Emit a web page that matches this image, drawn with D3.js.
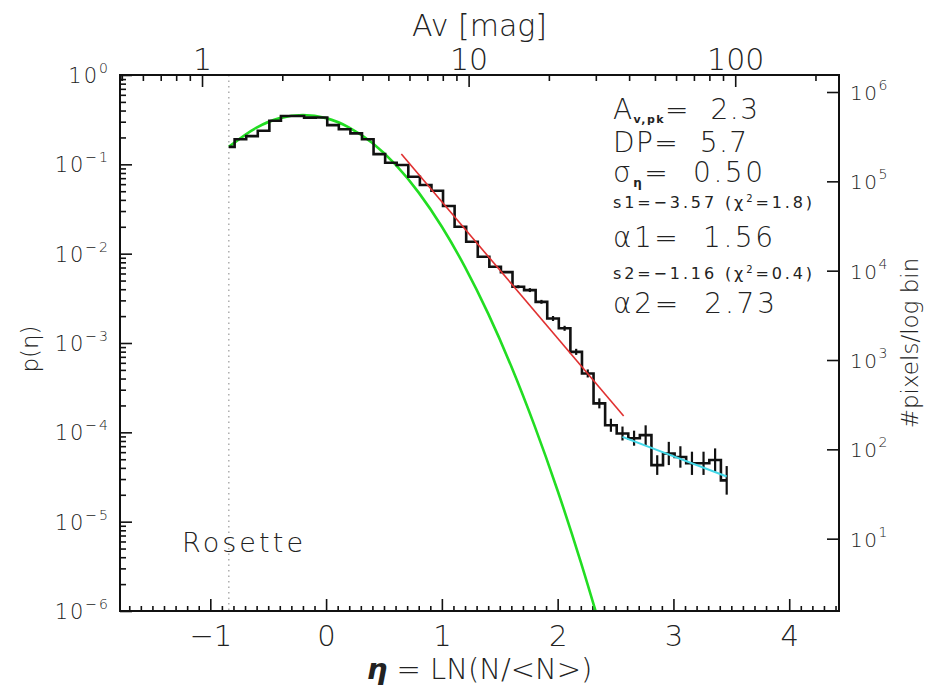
<!DOCTYPE html>
<html>
<head>
<meta charset="utf-8">
<script src="https://cdn.jsdelivr.net/npm/d3@7"></script>
<style>
  body { margin: 0; background: #fff; }
  svg { display: block; }
  text { font-family: "DejaVu Sans", sans-serif; font-weight: 200; fill: #222; white-space: pre; }
</style>
</head>
<body>
<div id="plot"></div>
<script>
// ---- data read off the Rosette column density PDF ----
// bin centres in eta = ln(N/<N>)
const ETA = [-0.84, -0.74, -0.64, -0.54, -0.44, -0.34, -0.24, -0.14, -0.04, 0.06,
             0.16, 0.26, 0.36, 0.46, 0.56, 0.66, 0.76, 0.86, 0.96, 1.06,
             1.16, 1.26, 1.36, 1.46, 1.56, 1.66, 1.76, 1.86, 1.96, 2.06,
             2.16, 2.26, 2.36, 2.46, 2.56, 2.66, 2.76, 2.86, 2.96, 3.06,
             3.16, 3.26, 3.36, 3.46];
// p(eta) per bin
const P_ETA = [0.157, 0.191, 0.207, 0.238, 0.308, 0.347, 0.347, 0.333, 0.334, 0.275,
               0.247, 0.222, 0.191, 0.130, 0.104, 0.0982, 0.0726, 0.0586, 0.0506, 0.0341,
               0.0200, 0.0136, 0.00923, 0.00713, 0.00622, 0.00426, 0.00391, 0.00289, 0.00188, 0.00146,
               7.96e-4, 4.56e-4, 2.11e-4, 1.20e-4, 9.7e-5, 8.6e-5, 9.3e-5, 4.3e-5, 5.8e-5, 5.3e-5,
               4.5e-5, 4.5e-5, 4.9e-5, 2.9e-5];
// half length of the error bars, in dex (0 = not visible)
const ERR_DEX = [0, 0, 0, 0, 0, 0, 0, 0, 0, 0,
                 0, 0, 0, 0, 0, 0, 0, 0, 0, 0,
                 0, 0, 0, 0, 0, 0.017, 0.022, 0.022, 0.028, 0.028,
                 0.034, 0.045, 0.056, 0.073, 0.078, 0.084, 0.11, 0.11, 0.13, 0.12,
                 0.13, 0.13, 0.13, 0.16];

// lognormal fit (green)
const LN_ETA = [-0.84, -0.6, -0.4, -0.2, 0.0, 0.2, 0.4, 0.6, 0.8, 1.0, 1.2, 1.4, 1.6, 1.8, 2.0, 2.2, 2.4];
const LN_P   = [0.157, 0.258, 0.329, 0.356, 0.329, 0.258, 0.173, 0.099, 0.0482, 0.0200,
                0.00707, 0.00213, 5.46e-4, 1.19e-4, 2.22e-5, 3.53e-6, 4.8e-7];

// power law fits: s1 (red) and s2 (cyan), end points
const PL1_ETA = [0.65, 2.57];
const PL1_P   = [0.1305, 1.52e-4];
const PL2_ETA = [2.56, 3.46];
const PL2_P   = [8.9e-5, 3.2e-5];

// axes
const X_RANGE = [-1.78, 4.43];
const Y_RANGE = [1e-6, 1];
const X_TICKS = [-1, 0, 1, 2, 3, 4];
const AV_TICKS = [1, 10, 100];
const Y_EXP = [0, -1, -2, -3, -4, -5, -6];
const Y_RIGHT_EXP = [1, 2, 3, 4, 5, 6];
const AV_MEAN = 2.92;        // Av at eta = 0
const PIX_PER_P = 1.55e6;    // p(eta) -> #pixels / log bin

// ---- canvas ----
const W = 925, H = 687;
const MARGIN = {top: 75, right: 86, bottom: 76, left: 120};
const IW = W - MARGIN.left - MARGIN.right;
const IH = H - MARGIN.top - MARGIN.bottom;

const svg = d3.select('#plot').append('svg')
    .attr('width', W)
    .attr('height', H);

svg.append('defs').append('clipPath').attr('id', 'clip')
    .append('rect').attr('width', IW).attr('height', IH);

const g = svg.append('g').attr('transform', `translate(${MARGIN.left},${MARGIN.top})`);

const x = d3.scaleLinear().domain(X_RANGE).range([0, IW]);
const y = d3.scaleLog().domain(Y_RANGE).range([IH, 0]);
const xTop = d3.scaleLog().domain(X_RANGE.map(e => AV_MEAN * Math.exp(e))).range([0, IW]);
const yRight = d3.scaleLog().domain(Y_RANGE.map(p => p * PIX_PER_P)).range([IH, 0]);

const sup = e => String(e).replace('-', '\u2212');

// minor tick positions
const xMinor = d3.range(-17, 45).map(i => i / 10).filter(v => !Number.isInteger(v));
const yMinor = [];
for (let e = -6; e < 0; e++) for (let k = 2; k <= 9; k++) yMinor.push(k * 10 ** e);
const avMinor = [];
for (let e = -1; e <= 2; e++) for (let k = 2; k <= 9; k++) avMinor.push(k * 10 ** e);
const avDom = xTop.domain();
const avMinorIn = avMinor.concat([0.5]).filter(v => v >= avDom[0] && v <= avDom[1] && ![1, 10, 100].includes(v));

function styleAxis(sel) {
    sel.select('.domain').remove();
    sel.selectAll('.tick line').attr('stroke', '#111').attr('stroke-width', 1.6);
    sel.selectAll('text').attr('fill', '#222')
        .attr('font-family', '"DejaVu Sans", sans-serif')
        .attr('font-weight', 200);
}

// bottom axis
g.append('g').attr('transform', `translate(0,${IH})`)
    .call(d3.axisBottom(x).tickValues(xMinor).tickSize(-5).tickFormat(''))
    .call(styleAxis);
g.append('g').attr('transform', `translate(0,${IH})`)
    .call(d3.axisBottom(x).tickValues(X_TICKS).tickSize(-12).tickPadding(14).tickFormat(d3.format('d')))
    .call(styleAxis)
    .selectAll('text').attr('font-size', 29);

// top axis (Av)
g.append('g')
    .call(d3.axisTop(xTop).tickValues(avMinorIn).tickSize(-6).tickFormat(''))
    .call(styleAxis);
g.append('g')
    .call(d3.axisTop(xTop).tickValues(AV_TICKS).tickSize(-12).tickPadding(5).tickFormat(d3.format('d')))
    .call(styleAxis)
    .selectAll('text').attr('font-size', 30);

// left axis p(eta)
g.append('g')
    .call(d3.axisLeft(y).tickValues(yMinor).tickSize(-6).tickFormat(''))
    .call(styleAxis);
g.append('g')
    .call(d3.axisLeft(y).tickValues(Y_EXP.map(e => 10 ** e)).tickSize(-12).tickFormat(''))
    .call(styleAxis);

g.selectAll('.ylab').data(Y_EXP).join('text')
    .attr('class', 'ylab')
    .attr('x', -10)
    .attr('y', d => y(10 ** d) + 8)
    .attr('text-anchor', 'end')
    .attr('font-size', 21)
    .attr('letter-spacing', 2)
    .each(function(d) {
        const t = d3.select(this);
        t.append('tspan').text('10');
        t.append('tspan').attr('dy', -10).attr('font-size', 14).text(sup(d));
    });

// right axis #pixels/log bin
g.append('g').attr('transform', `translate(${IW},0)`)
    .call(d3.axisRight(yRight).tickValues(Y_RIGHT_EXP.map(e => 10 ** e)).tickSize(-12).tickFormat(''))
    .call(styleAxis);

g.selectAll('.yrlab').data(Y_RIGHT_EXP).join('text')
    .attr('class', 'yrlab')
    .attr('x', IW + 11)
    .attr('y', d => yRight(10 ** d) + 8)
    .attr('font-size', 20)
    .attr('letter-spacing', 1.5)
    .each(function(d) {
        const t = d3.select(this);
        t.append('tspan').text('10');
        t.append('tspan').attr('dy', -10).attr('font-size', 14).text(sup(d));
    });

// axis titles
svg.append('text')
    .attr('x', MARGIN.left + IW / 2).attr('y', 36)
    .attr('text-anchor', 'middle').attr('font-size', 30)
    .text('Av [mag]');

svg.append('text')
    .attr('x', MARGIN.left + IW / 2).attr('y', 679)
    .attr('text-anchor', 'middle').attr('font-size', 29)
    .call(t => {
        t.append('tspan').attr('font-style', 'italic').attr('font-weight', 'bold').text('\u03b7');
        t.append('tspan').text(' = LN(N/<N>)');
    });

svg.append('text')
    .attr('transform', `translate(38,${MARGIN.top + IH / 2 + 6}) rotate(-90)`)
    .attr('text-anchor', 'middle').attr('font-size', 23)
    .text('p(\u03b7)');

svg.append('text')
    .attr('transform', `translate(918,${MARGIN.top + IH / 2}) rotate(-90)`)
    .attr('text-anchor', 'middle').attr('font-size', 23)
    .text('#pixels/log bin');

// ---- plot content ----
const plot = g.append('g').attr('clip-path', 'url(#clip)');

// dotted line at the lowest eta
plot.append('line')
    .attr('x1', x(ETA[0])).attr('x2', x(ETA[0]))
    .attr('y1', 0).attr('y2', IH)
    .attr('stroke', '#999').attr('stroke-width', 1.2)
    .attr('stroke-dasharray', '1.5,4');

// lognormal fit
const lnData = LN_ETA.map((e, i) => [e, LN_P[i]]);
plot.append('path')
    .datum(lnData)
    .attr('fill', 'none')
    .attr('stroke', '#22dd22')
    .attr('stroke-width', 2.6)
    .attr('d', d3.line().x(d => x(d[0])).y(d => y(d[1])).curve(d3.curveMonotoneX));

// histogram
const hist = ETA.map((e, i) => [e, P_ETA[i], ERR_DEX[i]]);
plot.append('path')
    .datum(hist)
    .attr('fill', 'none')
    .attr('stroke', '#111')
    .attr('stroke-width', 2.6)
    .attr('d', d3.line().x(d => x(d[0])).y(d => y(d[1])).curve(d3.curveStep));

plot.selectAll('.err').data(hist.filter(d => d[2] > 0)).join('line')
    .attr('class', 'err')
    .attr('x1', d => x(d[0])).attr('x2', d => x(d[0]))
    .attr('y1', d => y(d[1] * 10 ** d[2]))
    .attr('y2', d => y(d[1] / 10 ** d[2]))
    .attr('stroke', '#111')
    .attr('stroke-width', 2.2);

// power law fits
plot.append('path')
    .datum(PL1_ETA.map((e, i) => [e, PL1_P[i]]))
    .attr('fill', 'none').attr('stroke', '#e03030').attr('stroke-width', 1.6)
    .attr('d', d3.line().x(d => x(d[0])).y(d => y(d[1])));

plot.append('path')
    .datum(PL2_ETA.map((e, i) => [e, PL2_P[i]]))
    .attr('fill', 'none').attr('stroke', '#44d8e8').attr('stroke-width', 2)
    .attr('d', d3.line().x(d => x(d[0])).y(d => y(d[1])));

// frame
g.append('rect')
    .attr('width', IW).attr('height', IH)
    .attr('fill', 'none').attr('stroke', '#111').attr('stroke-width', 2);

// ---- annotations ----
const big = 28, small = 16, ax = 613;

function note(yb, len, size, build) {
    const t = svg.append('text')
        .attr('x', ax).attr('y', yb)
        .attr('font-size', size)
        .style('font-weight', size === small ? 400 : 200)  // style, so it beats the css rule
        .attr('textLength', len)
        .attr('lengthAdjust', 'spacing');
    build(t);
}

note(119, 145, big, t => {
    t.append('tspan').text('A');
    t.append('tspan').attr('font-size', 11).attr('font-weight', 'bold').attr('dy', 4).text('v,pk');
    t.append('tspan').attr('dy', -4).text('=  2.3');
});
note(152, 134, big, t => t.text('DP=  5.7'));
note(182, 150, big, t => {
    t.append('tspan').text('\u03c3');
    t.append('tspan').attr('font-size', 12).attr('font-weight', 'bold').attr('dy', 5).text('\u03b7');
    t.append('tspan').attr('dy', -5).text('=  0.50');
});
note(208, 199, small, t => {
    t.append('tspan').text('s1=\u22123.57 (\u03c7');
    t.append('tspan').attr('font-size', 10).attr('dy', -6).text('2');
    t.append('tspan').attr('dy', 6).text('=1.8)');
});
note(247, 160, big, t => t.text('\u03b11=  1.56'));
note(279, 199, small, t => {
    t.append('tspan').text('s2=\u22121.16 (\u03c7');
    t.append('tspan').attr('font-size', 10).attr('dy', -6).text('2');
    t.append('tspan').attr('dy', 6).text('=0.4)');
});
note(313, 162, big, t => t.text('\u03b12=  2.73'));

svg.append('text')
    .attr('x', 182).attr('y', 552)
    .attr('font-size', 27)
    .attr('textLength', 121).attr('lengthAdjust', 'spacing')
    .text('Rosette');
</script>
</body>
</html>
